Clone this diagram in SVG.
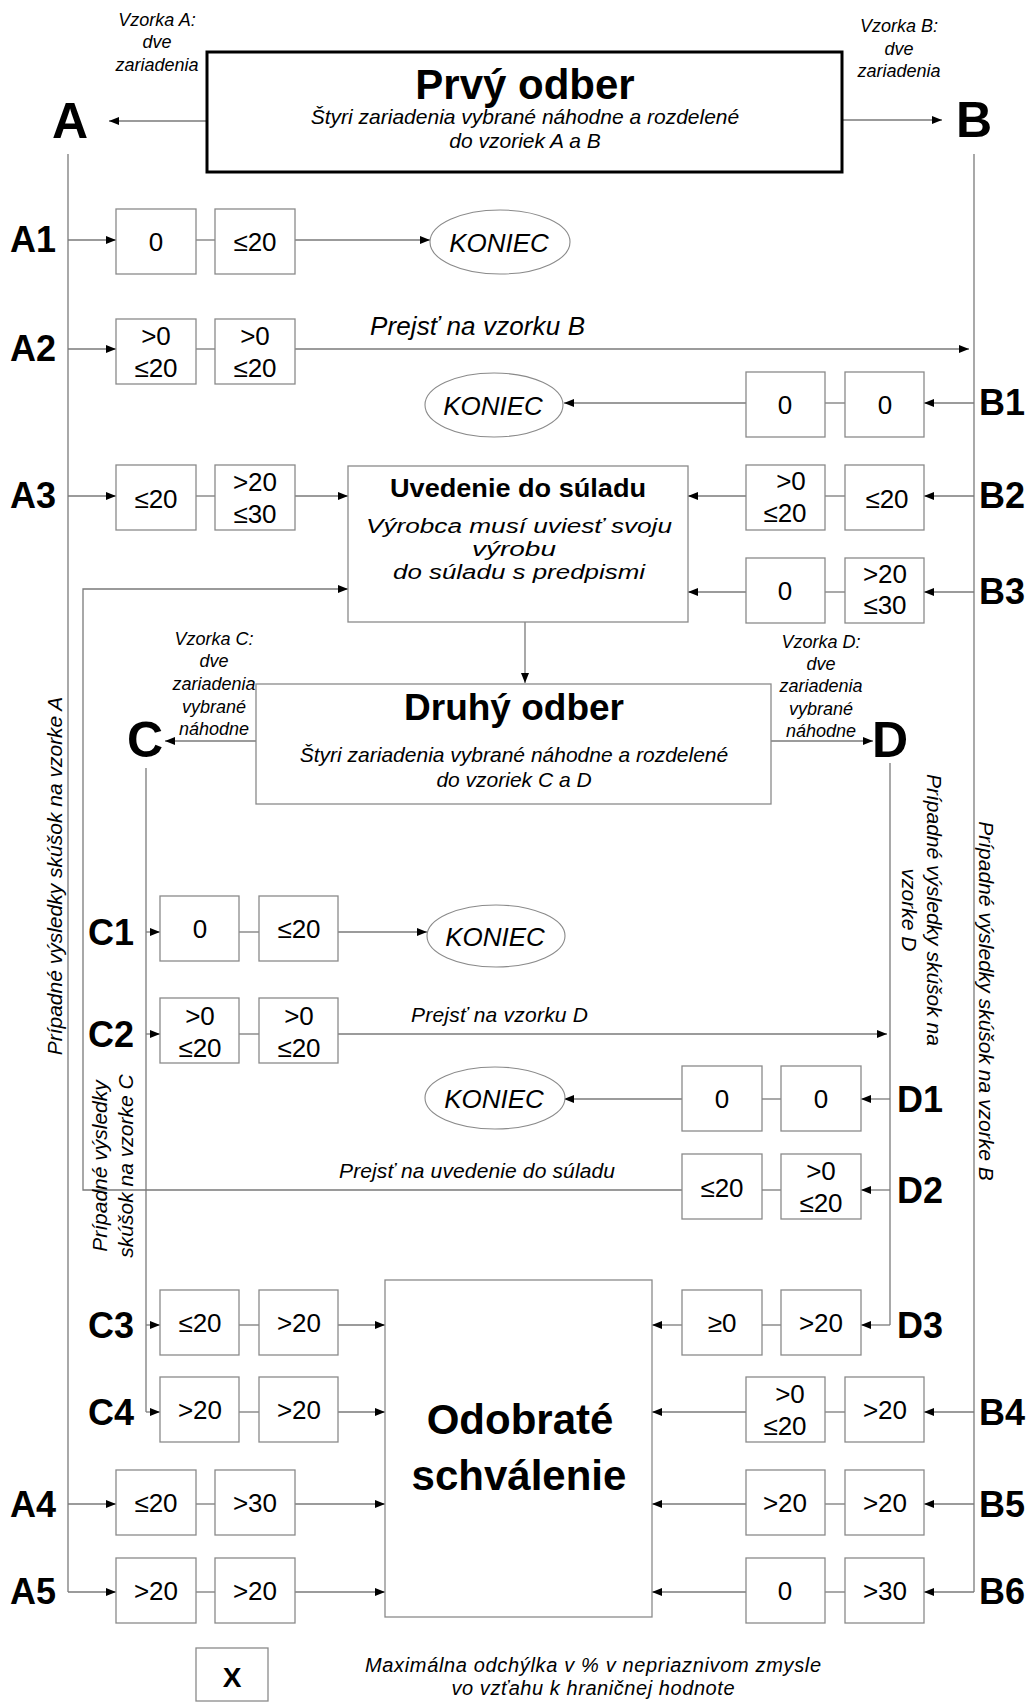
<svg xmlns="http://www.w3.org/2000/svg" width="1032" height="1702" viewBox="0 0 1032 1702">
<style>
text{font-family:"Liberation Sans",Arial,Helvetica,sans-serif;fill:#000}
.box{fill:#fff;stroke:#8a8a8a;stroke-width:1.3}
.ln{stroke:#7a7a7a;stroke-width:1.3;fill:none}
.arr{marker-end:url(#ah)}
.num{font-size:26px;text-anchor:middle}
.lbl{font-size:36px;font-weight:bold}
.big{font-size:50px;font-weight:bold;text-anchor:middle}
.it{font-style:italic}
.mid{text-anchor:middle}
.ko{fill:#fff;stroke:#8a8a8a;stroke-width:1.1}
</style>
<defs>
<marker id="ah" markerUnits="userSpaceOnUse" markerWidth="10" markerHeight="8" refX="10" refY="4" orient="auto">
<path d="M0,0 L10,4 L0,8 Z" fill="#000"/>
</marker>
</defs>
<rect width="1032" height="1702" fill="#fff"/>

<g id="connectors">
<path class="ln arr" d="M207,121 H109"/>
<path class="ln arr" d="M842,120 H942"/>
<path class="ln" d="M68,154 V1592"/>
<path class="ln" d="M974,154 V1592"/>
<path class="ln" d="M146,768 V1412"/>
<path class="ln" d="M890,763 V1325"/>
<path class="ln arr" d="M525,622 V683"/>
<path class="ln arr" d="M256,741 H165"/>
<path class="ln arr" d="M771,741 H873"/>
<path class="ln arr" d="M68,240 H116"/><path class="ln" d="M196,240 H215"/><path class="ln arr" d="M295,240 H430"/>
<path class="ln arr" d="M68,349 H116"/><path class="ln" d="M196,349 H215"/><path class="ln arr" d="M295,349 H969"/>
<path class="ln arr" d="M68,496 H116"/><path class="ln" d="M196,496 H215"/><path class="ln arr" d="M295,496 H348"/>
<path class="ln arr" d="M68,1504 H116"/><path class="ln" d="M196,1504 H215"/><path class="ln arr" d="M295,1504 H385"/>
<path class="ln arr" d="M68,1592 H116"/><path class="ln" d="M196,1592 H215"/><path class="ln arr" d="M295,1592 H385"/>
<path class="ln arr" d="M974,403 H924"/><path class="ln" d="M845,403 H825"/><path class="ln arr" d="M746,403 H564"/>
<path class="ln arr" d="M974,496 H924"/><path class="ln" d="M845,496 H825"/><path class="ln arr" d="M746,496 H688"/>
<path class="ln arr" d="M974,592 H924"/><path class="ln" d="M845,592 H825"/><path class="ln arr" d="M746,592 H688"/>
<path class="ln arr" d="M974,1412 H924"/><path class="ln" d="M845,1412 H825"/><path class="ln arr" d="M746,1412 H652"/>
<path class="ln arr" d="M974,1504 H924"/><path class="ln" d="M845,1504 H825"/><path class="ln arr" d="M746,1504 H652"/>
<path class="ln arr" d="M974,1592 H924"/><path class="ln" d="M845,1592 H825"/><path class="ln arr" d="M746,1592 H652"/>
<path class="ln arr" d="M146,932 H160"/><path class="ln" d="M239,932 H259"/><path class="ln arr" d="M338,932 H427"/>
<path class="ln arr" d="M146,1034 H160"/><path class="ln" d="M239,1034 H259"/><path class="ln arr" d="M338,1034 H887"/>
<path class="ln arr" d="M146,1325 H160"/><path class="ln" d="M239,1325 H259"/><path class="ln arr" d="M338,1325 H385"/>
<path class="ln arr" d="M146,1412 H160"/><path class="ln" d="M239,1412 H259"/><path class="ln arr" d="M338,1412 H385"/>
<path class="ln arr" d="M890,1099 H861"/><path class="ln" d="M781,1099 H762"/><path class="ln arr" d="M682,1099 H564"/>
<path class="ln arr" d="M890,1190 H861"/><path class="ln" d="M781,1190 H762"/><path class="ln arr" d="M682,1190 H83 V589 H348"/>
<path class="ln arr" d="M890,1325 H861"/><path class="ln" d="M781,1325 H762"/><path class="ln arr" d="M682,1325 H652"/>
</g>

<g id="first-sampling">
<rect x="207" y="52" width="635" height="120" fill="#fff" stroke="#000" stroke-width="3"/>
<text x="525" y="99" class="mid" font-size="42" font-weight="bold">Prvý odber</text>
<text x="525" y="124" class="mid it" font-size="21">Štyri zariadenia vybrané náhodne a rozdelené</text>
<text x="525" y="148" class="mid it" font-size="21">do vzoriek A a B</text>
</g>
<g id="sample-A-note" class="it" font-size="18">
<text x="157" y="26" class="mid">Vzorka A:</text>
<text x="157" y="48" class="mid">dve</text>
<text x="157" y="71" class="mid">zariadenia</text>
</g>
<g id="sample-B-note" class="it" font-size="18">
<text x="899" y="32" class="mid">Vzorka B:</text>
<text x="899" y="55" class="mid">dve</text>
<text x="899" y="77" class="mid">zariadenia</text>
</g>
<g id="node-A"><text x="70" y="138" class="big">A</text></g>
<g id="node-B"><text x="974" y="137" class="big">B</text></g>

<g id="row-A1">
<text x="10" y="252" class="lbl">A1</text>
<rect x="116" y="209" width="80" height="65" class="box"/><text x="156" y="251" class="num">0</text>
<rect x="215" y="209" width="80" height="65" class="box"/><text x="255" y="251" class="num">≤20</text>
</g>
<g id="end-1"><ellipse cx="500" cy="242" rx="70" ry="32" class="ko"/><text x="499" y="252" class="mid it" font-size="26">KONIEC</text></g>

<g id="row-A2">
<text x="10" y="361" class="lbl">A2</text>
<rect x="116" y="319" width="80" height="65" class="box"/><text x="156" y="345" class="num">&gt;0</text><text x="156" y="377" class="num">≤20</text>
<rect x="215" y="319" width="80" height="65" class="box"/><text x="255" y="345" class="num">&gt;0</text><text x="255" y="377" class="num">≤20</text>
<text x="370" y="335" class="it" font-size="26" textLength="215">Prejsť na vzorku B</text>
</g>

<g id="row-B1">
<text x="979" y="415" class="lbl">B1</text>
<rect x="746" y="372" width="79" height="65" class="box"/><text x="785" y="414" class="num">0</text>
<rect x="845" y="372" width="79" height="65" class="box"/><text x="885" y="414" class="num">0</text>
</g>
<g id="end-2"><ellipse cx="494" cy="405" rx="69" ry="32" class="ko"/><text x="493" y="415" class="mid it" font-size="26">KONIEC</text></g>

<g id="row-A3">
<text x="10" y="508" class="lbl">A3</text>
<rect x="116" y="465" width="80" height="65" class="box"/><text x="156" y="508" class="num">≤20</text>
<rect x="215" y="465" width="80" height="65" class="box"/><text x="255" y="491" class="num">&gt;20</text><text x="255" y="523" class="num">≤30</text>
</g>

<g id="compliance">
<rect x="348" y="466" width="340" height="156" class="box"/>
<text x="518" y="497" class="mid" font-size="25" font-weight="bold" textLength="256" lengthAdjust="spacingAndGlyphs">Uvedenie do súladu</text>
<text x="519" y="533" class="mid it" font-size="20" textLength="306" lengthAdjust="spacingAndGlyphs">Výrobca musí uviesť svoju</text>
<text x="514" y="556" class="mid it" font-size="20" textLength="84" lengthAdjust="spacingAndGlyphs">výrobu</text>
<text x="519" y="579" class="mid it" font-size="20" textLength="252" lengthAdjust="spacingAndGlyphs">do súladu s predpismi</text>
</g>

<g id="row-B2">
<text x="979" y="508" class="lbl">B2</text>
<rect x="746" y="465" width="79" height="65" class="box"/><text x="791" y="490" class="num">&gt;0</text><text x="785" y="522" class="num">≤20</text>
<rect x="845" y="465" width="79" height="65" class="box"/><text x="887" y="508" class="num">≤20</text>
</g>
<g id="row-B3">
<text x="979" y="604" class="lbl">B3</text>
<rect x="746" y="558" width="79" height="65" class="box"/><text x="785" y="600" class="num">0</text>
<rect x="845" y="558" width="79" height="65" class="box"/><text x="885" y="583" class="num">&gt;20</text><text x="885" y="614" class="num">≤30</text>
</g>

<g id="second-sampling">
<rect x="256" y="684" width="515" height="120" class="box"/>
<text x="514" y="720" class="mid" font-size="37" font-weight="bold">Druhý odber</text>
<text x="514" y="762" class="mid it" font-size="21">Štyri zariadenia vybrané náhodne a rozdelené</text>
<text x="514" y="787" class="mid it" font-size="21">do vzoriek C a D</text>
</g>
<g id="sample-C-note" class="it" font-size="18">
<text x="214" y="645" class="mid">Vzorka C:</text>
<text x="214" y="667" class="mid">dve</text>
<text x="214" y="690" class="mid">zariadenia</text>
<text x="214" y="713" class="mid">vybrané</text>
<text x="214" y="735" class="mid">náhodne</text>
</g>
<g id="sample-D-note" class="it" font-size="18">
<text x="821" y="648" class="mid">Vzorka D:</text>
<text x="821" y="670" class="mid">dve</text>
<text x="821" y="692" class="mid">zariadenia</text>
<text x="821" y="715" class="mid">vybrané</text>
<text x="821" y="737" class="mid">náhodne</text>
</g>
<g id="node-C"><text x="145" y="757" class="big" font-size="48">C</text></g>
<g id="node-D"><text x="890" y="757" class="big" font-size="48">D</text></g>

<g id="side-notes" class="it" font-size="21">
<text x="62" y="876" class="mid" transform="rotate(-90 62 876)">Prípadné výsledky skúšok na vzorke A</text>
<text x="979" y="1001" class="mid" transform="rotate(90 979 1001)">Prípadné výsledky skúšok na vzorke B</text>
<text x="927" y="910" class="mid" transform="rotate(90 927 910)">Prípadné výsledky skúšok na</text>
<text x="902" y="910" class="mid" transform="rotate(90 902 910)">vzorke D</text>
<text x="107" y="1166" class="mid" transform="rotate(-90 107 1166)">Prípadné výsledky</text>
<text x="133" y="1166" class="mid" transform="rotate(-90 133 1166)">skúšok na vzorke C</text>
</g>

<g id="row-C1">
<text x="134" y="945" class="lbl" text-anchor="end">C1</text>
<rect x="160" y="896" width="79" height="65" class="box"/><text x="200" y="938" class="num">0</text>
<rect x="259" y="896" width="79" height="65" class="box"/><text x="299" y="938" class="num">≤20</text>
</g>
<g id="end-3"><ellipse cx="496" cy="936" rx="69" ry="31" class="ko"/><text x="495" y="946" class="mid it" font-size="26">KONIEC</text></g>

<g id="row-C2">
<text x="134" y="1047" class="lbl" text-anchor="end">C2</text>
<rect x="160" y="998" width="79" height="65" class="box"/><text x="200" y="1025" class="num">&gt;0</text><text x="200" y="1057" class="num">≤20</text>
<rect x="259" y="998" width="79" height="65" class="box"/><text x="299" y="1025" class="num">&gt;0</text><text x="299" y="1057" class="num">≤20</text>
<text x="411" y="1022" class="it" font-size="21" textLength="177">Prejsť na vzorku D</text>
</g>

<g id="row-D1">
<text x="897" y="1112" class="lbl">D1</text>
<rect x="682" y="1066" width="80" height="65" class="box"/><text x="722" y="1108" class="num">0</text>
<rect x="781" y="1066" width="80" height="65" class="box"/><text x="821" y="1108" class="num">0</text>
</g>
<g id="end-4"><ellipse cx="495" cy="1098" rx="70" ry="31" class="ko"/><text x="494" y="1108" class="mid it" font-size="26">KONIEC</text></g>

<g id="row-D2">
<text x="897" y="1203" class="lbl">D2</text>
<rect x="682" y="1154" width="80" height="65" class="box"/><text x="722" y="1197" class="num">≤20</text>
<rect x="781" y="1154" width="80" height="65" class="box"/><text x="821" y="1180" class="num">&gt;0</text><text x="821" y="1212" class="num">≤20</text>
<text x="339" y="1178" class="it" font-size="21" textLength="276">Prejsť na uvedenie do súladu</text>
</g>

<g id="row-C3">
<text x="134" y="1338" class="lbl" text-anchor="end">C3</text>
<rect x="160" y="1290" width="79" height="65" class="box"/><text x="200" y="1332" class="num">≤20</text>
<rect x="259" y="1290" width="79" height="65" class="box"/><text x="299" y="1332" class="num">&gt;20</text>
</g>
<g id="row-D3">
<text x="897" y="1338" class="lbl">D3</text>
<rect x="682" y="1290" width="80" height="65" class="box"/><text x="722" y="1332" class="num">≥0</text>
<rect x="781" y="1290" width="80" height="65" class="box"/><text x="821" y="1332" class="num">&gt;20</text>
</g>

<g id="approval">
<rect x="385" y="1280" width="267" height="337" class="box"/>
<text x="520" y="1434" class="mid" font-size="42" font-weight="bold">Odobraté</text>
<text x="519" y="1490" class="mid" font-size="42" font-weight="bold">schválenie</text>
</g>

<g id="row-C4">
<text x="134" y="1425" class="lbl" text-anchor="end">C4</text>
<rect x="160" y="1377" width="79" height="65" class="box"/><text x="200" y="1419" class="num">&gt;20</text>
<rect x="259" y="1377" width="79" height="65" class="box"/><text x="299" y="1419" class="num">&gt;20</text>
</g>
<g id="row-B4">
<text x="979" y="1425" class="lbl">B4</text>
<rect x="746" y="1377" width="79" height="65" class="box"/><text x="790" y="1403" class="num">&gt;0</text><text x="785" y="1435" class="num">≤20</text>
<rect x="845" y="1377" width="79" height="65" class="box"/><text x="885" y="1419" class="num">&gt;20</text>
</g>
<g id="row-A4">
<text x="10" y="1517" class="lbl">A4</text>
<rect x="116" y="1470" width="80" height="65" class="box"/><text x="156" y="1512" class="num">≤20</text>
<rect x="215" y="1470" width="80" height="65" class="box"/><text x="255" y="1512" class="num">&gt;30</text>
</g>
<g id="row-B5">
<text x="979" y="1517" class="lbl">B5</text>
<rect x="746" y="1470" width="79" height="65" class="box"/><text x="785" y="1512" class="num">&gt;20</text>
<rect x="845" y="1470" width="79" height="65" class="box"/><text x="885" y="1512" class="num">&gt;20</text>
</g>
<g id="row-A5">
<text x="10" y="1604" class="lbl">A5</text>
<rect x="116" y="1558" width="80" height="65" class="box"/><text x="156" y="1600" class="num">&gt;20</text>
<rect x="215" y="1558" width="80" height="65" class="box"/><text x="255" y="1600" class="num">&gt;20</text>
</g>
<g id="row-B6">
<text x="979" y="1604" class="lbl">B6</text>
<rect x="746" y="1558" width="79" height="65" class="box"/><text x="785" y="1600" class="num">0</text>
<rect x="845" y="1558" width="79" height="65" class="box"/><text x="885" y="1600" class="num">&gt;30</text>
</g>

<g id="legend">
<rect x="196" y="1648" width="72" height="53" class="box"/>
<text x="232" y="1687" class="mid" font-size="28" font-weight="bold">X</text>
<text x="593" y="1672" class="mid it" font-size="20" textLength="456">Maximálna odchýlka v % v nepriaznivom zmysle</text>
<text x="593" y="1695" class="mid it" font-size="20" textLength="283">vo vzťahu k hraničnej hodnote</text>
</g>
</svg>
